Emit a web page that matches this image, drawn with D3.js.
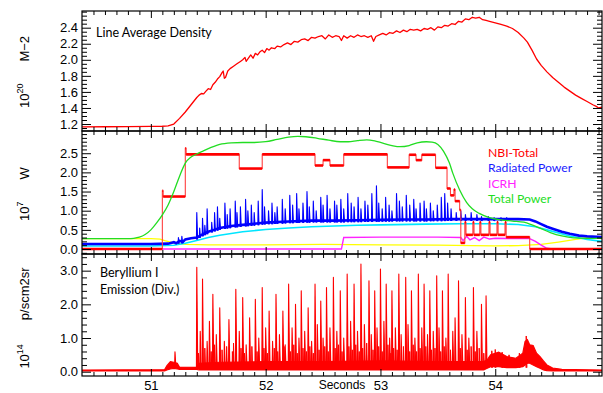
<!DOCTYPE html>
<html>
<head>
<meta charset="utf-8">
<script src="https://cdn.jsdelivr.net/npm/d3@7"></script>
<style>
  html, body { margin: 0; padding: 0; background: #fff; }
  svg { display: block; }
</style>
</head>
<body>
<svg id="chart" width="603" height="393"></svg>
<script>
// ---------------- data ----------------
// Line average density, 10^20 m^-2  [time s, value]
const density = [
  [50.40,1.165],[50.60,1.166],[50.80,1.168],[51.00,1.170],[51.10,1.172],[51.15,1.178],
  [51.20,1.200],[51.25,1.270],[51.30,1.350],[51.35,1.440],[51.40,1.530],[51.42,1.560],
  [51.44,1.580],[51.46,1.575],[51.48,1.610],[51.50,1.640],[51.52,1.630],[51.54,1.690],
  [51.56,1.720],[51.58,1.760],[51.60,1.790],[51.62,1.840],[51.63,1.860],[51.64,1.770],
  [51.65,1.780],[51.67,1.860],[51.69,1.890],[51.72,1.920],[51.75,1.950],[51.78,1.980],
  [51.80,2.000],[51.82,2.030],[51.83,1.980],[51.85,2.020],[51.87,2.060],[51.89,2.020],
  [51.91,2.080],[51.93,2.060],[51.95,2.100],[51.97,2.120],[51.99,2.090],[52.01,2.140],
  [52.03,2.120],[52.05,2.150],[52.08,2.140],[52.10,2.170],[52.13,2.160],[52.16,2.190],
  [52.19,2.210],[52.22,2.190],[52.25,2.230],[52.28,2.220],[52.31,2.250],[52.34,2.260],
  [52.37,2.240],[52.40,2.280],[52.43,2.270],[52.46,2.290],[52.49,2.300],[52.52,2.260],
  [52.55,2.310],[52.58,2.280],[52.61,2.300],[52.64,2.290],[52.66,2.240],[52.68,2.300],
  [52.71,2.270],[52.74,2.300],[52.77,2.280],[52.80,2.310],[52.83,2.290],[52.86,2.300],
  [52.89,2.280],[52.92,2.300],[52.94,2.230],[52.96,2.290],[52.99,2.310],[53.02,2.330],
  [53.05,2.310],[53.08,2.340],[53.11,2.330],[53.14,2.360],[53.17,2.340],[53.20,2.370],
  [53.23,2.350],[53.26,2.380],[53.29,2.370],[53.32,2.380],[53.35,2.360],[53.38,2.390],
  [53.41,2.380],[53.44,2.400],[53.47,2.370],[53.50,2.410],[53.53,2.400],[53.56,2.430],
  [53.59,2.420],[53.62,2.450],[53.65,2.440],[53.68,2.480],[53.71,2.470],[53.74,2.510],
  [53.77,2.500],[53.80,2.530],[53.83,2.520],[53.86,2.530],[53.89,2.500],[53.92,2.490],
  [53.95,2.480],[54.00,2.460],[54.05,2.440],[54.10,2.420],[54.15,2.390],[54.20,2.340],
  [54.25,2.270],[54.28,2.220],[54.32,2.120],[54.36,2.010],[54.40,1.930],[54.45,1.850],
  [54.50,1.780],[54.55,1.720],[54.60,1.660],[54.65,1.610],[54.70,1.560],[54.75,1.520],
  [54.80,1.480],[54.85,1.440],[54.88,1.420],[54.90,1.400],[54.93,1.410]
];

// Neutral beam power (step after each time), 10^7 W
const nbiTotal = [
  [50.40,0.00],[51.10,1.52],[51.107,1.37],[51.30,2.63],[51.307,2.47],[51.77,2.10],
  [51.97,2.47],[52.43,2.18],[52.50,2.32],[52.56,2.18],[52.68,2.47],[53.06,2.13],
  [53.25,2.46],[53.31,2.32],[53.36,2.46],[53.48,2.12],[53.58,1.58],[53.61,1.40],
  [53.64,1.55],[53.65,1.25],[53.69,1.02],[53.70,0.16],[53.735,0.70],[53.745,0.37],
  [53.805,0.70],[53.815,0.37],[53.865,0.70],[53.875,0.37],[53.945,0.70],[53.955,0.37],
  [54.015,0.70],[54.025,0.37],[54.085,0.70],[54.095,0.31],[54.30,0.00],[54.93,0.00]
];

// Total input power, 10^7 W
const totalPower = [
  [50.40,0.27],[50.80,0.27],[50.85,0.28],[50.90,0.31],[50.95,0.38],[51.00,0.50],
  [51.05,0.68],[51.10,0.89],[51.15,1.15],[51.20,1.50],[51.25,1.90],[51.30,2.24],
  [51.35,2.40],[51.40,2.48],[51.45,2.55],[51.50,2.62],[51.55,2.68],[51.60,2.73],
  [51.70,2.77],[51.80,2.78],[51.90,2.78],[52.00,2.80],[52.10,2.86],[52.20,2.92],
  [52.28,2.94],[52.35,2.93],[52.45,2.89],[52.55,2.84],[52.65,2.80],[52.72,2.80],
  [52.80,2.83],[52.88,2.85],[52.95,2.82],[53.00,2.78],[53.10,2.70],[53.17,2.67],
  [53.25,2.70],[53.32,2.77],[53.40,2.80],[53.45,2.79],[53.50,2.73],[53.55,2.55],
  [53.60,2.25],[53.63,1.98],[53.69,1.54],[53.75,1.22],[53.80,1.05],[53.86,0.93],
  [53.95,0.82],[54.05,0.76],[54.15,0.73],[54.25,0.70],[54.32,0.63],[54.40,0.53],
  [54.48,0.43],[54.58,0.34],[54.68,0.29],[54.80,0.28],[54.93,0.28]
];

// Radiated power baseline and its bursts, 10^7 W
const radiated = [
  [50.40,0.13],[51.00,0.13],[51.15,0.14],[51.20,0.18],[51.22,0.15],[51.25,0.21],
  [51.28,0.19],[51.30,0.25],[51.35,0.28],[51.40,0.30],[51.45,0.38],[51.50,0.45],
  [51.55,0.50],[51.60,0.55],[51.70,0.60],[51.80,0.63],[51.90,0.66],[52.00,0.69],
  [52.20,0.72],[52.40,0.74],[52.60,0.74],[52.80,0.75],[53.00,0.76],[53.20,0.77],
  [53.40,0.77],[53.60,0.78],[53.80,0.78],[54.00,0.78],[54.20,0.78],[54.30,0.77],
  [54.35,0.72],[54.40,0.65],[54.45,0.58],[54.50,0.53],[54.58,0.45],[54.65,0.40],
  [54.73,0.35],[54.80,0.33],[54.93,0.31]
];
const radiatedBursts = [
  [51.24,0.30],[51.27,0.33],[51.40,0.95],[51.425,0.55],[51.45,0.80],[51.47,0.62],
  [51.49,1.05],[51.53,0.70],[51.555,0.95],[51.58,1.10],[51.60,0.80],[51.645,1.20],
  [51.665,0.90],[51.69,1.05],[51.735,1.25],[51.75,0.95],[51.78,1.10],[51.825,1.30],
  [51.845,1.00],[51.875,1.15],[51.90,0.95],[51.935,1.25],[51.97,1.55],[51.99,1.10],
  [52.025,1.00],[52.055,1.20],[52.08,0.95],[52.10,1.10],[52.145,1.30],[52.17,1.05],
  [52.21,1.40],[52.235,1.15],[52.27,1.45],[52.29,1.05],[52.325,1.20],[52.36,1.50],
  [52.38,1.10],[52.415,1.25],[52.44,1.00],[52.48,1.35],[52.50,1.15],[52.535,1.40],
  [52.56,1.05],[52.60,1.25],[52.62,1.15],[52.655,1.30],[52.68,1.05],[52.715,1.45],
  [52.745,1.20],[52.77,1.10],[52.805,1.35],[52.83,1.05],[52.865,1.25],[52.89,1.15],
  [52.925,1.45],[52.965,1.65],[52.985,1.20],[53.015,1.05],[53.045,1.35],[53.075,1.15],
  [53.10,1.00],[53.14,1.45],[53.165,1.25],[53.19,1.10],[53.225,1.40],[53.255,1.15],
  [53.29,1.30],[53.31,1.05],[53.345,1.20],[53.38,1.25],[53.40,1.05],[53.435,1.20],
  [53.46,1.00],[53.495,1.15],[53.53,1.35],[53.56,1.45],[53.585,1.20],[53.615,1.05],
  [53.66,0.95],[53.70,1.00],[53.74,0.90],[53.79,0.95],[53.84,0.90],[53.88,0.85],
  [53.94,0.85],[53.99,0.82],[54.05,0.82],[54.10,0.82]
];

// Cyan and yellow power traces, 10^7 W
const cyanTrace = [
  [50.40,0.08],[51.00,0.08],[51.20,0.10],[51.30,0.15],[51.40,0.22],[51.50,0.30],
  [51.60,0.36],[51.80,0.45],[52.00,0.51],[52.20,0.55],[52.40,0.58],[52.60,0.60],
  [52.80,0.62],[53.00,0.63],[53.40,0.65],[53.70,0.66],[54.00,0.66],[54.20,0.64],
  [54.35,0.58],[54.50,0.46],[54.65,0.34],[54.80,0.25],[54.93,0.20]
];
const yellowTrace = [
  [50.40,0.27],[51.00,0.27],[51.08,0.26],[51.12,0.22],[51.20,0.16],[51.30,0.12],
  [51.50,0.11],[52.00,0.11],[52.50,0.12],[53.00,0.11],[53.50,0.10],[53.80,0.09],
  [54.00,0.08],[54.20,0.09],[54.40,0.12],[54.55,0.18],[54.70,0.25],[54.85,0.31],
  [54.93,0.33]
];

// ICRH power, 10^7 W
const icrh = [
  [50.40,0.00],[52.66,0.00],[52.68,0.30],[53.00,0.31],[53.50,0.31],[53.70,0.30],
  [53.72,0.22],[53.75,0.33],[53.78,0.24],[53.82,0.30],[53.86,0.22],[53.90,0.31],
  [53.95,0.26],[54.00,0.28],[54.20,0.27],[54.30,0.27],[54.35,0.20],[54.40,0.10],
  [54.45,0.02],[54.50,0.00],[54.93,0.00]
];

// Be I divertor emission, 10^14 p/s cm2 sr : envelope of the fast signal [t, low, high]
const berylliumBand = [
  [50.40,0.02,0.05],[51.12,0.02,0.06],[51.14,0.05,0.18],[51.17,0.08,0.30],
  [51.20,0.10,0.28],[51.23,0.08,0.25],[51.25,0.07,0.13],[51.40,0.07,0.14],
  [51.42,0.05,0.25],[51.60,0.05,0.28],[52.00,0.05,0.30],[52.50,0.05,0.30],
  [53.00,0.05,0.32],[53.50,0.05,0.30],[53.90,0.05,0.30],[53.93,0.10,0.35],
  [53.96,0.15,0.50],[54.03,0.15,0.58],[54.10,0.12,0.45],[54.18,0.12,0.40],
  [54.24,0.15,0.55],[54.26,0.20,0.90],[54.28,0.25,0.95],[54.30,0.25,0.80],
  [54.33,0.20,0.78],[54.36,0.15,0.55],[54.39,0.10,0.45],[54.42,0.05,0.32],
  [54.45,0.03,0.20],[54.50,0.02,0.11],[54.58,0.02,0.07],[54.93,0.02,0.05]
];
// Be I bursts (ELMs) [t, peak]
const berylliumBursts = [
  [51.21,0.59],
  [51.40,3.10],[51.43,1.20],[51.45,2.75],[51.49,0.90],[51.51,1.50],[51.54,2.30],
  [51.57,1.10],[51.60,1.90],[51.64,0.90],[51.68,1.55],[51.74,2.45],[51.77,1.20],
  [51.80,2.20],[51.83,0.80],[51.86,1.60],[51.91,2.15],[51.94,1.00],[51.97,2.50],
  [52.00,1.30],[52.03,1.80],[52.06,0.90],[52.09,2.30],[52.12,1.10],[52.15,1.80],
  [52.17,0.80],[52.20,2.60],[52.23,1.30],[52.26,2.00],[52.29,1.00],[52.31,2.40],
  [52.34,1.20],[52.37,1.90],[52.40,0.90],[52.43,2.60],[52.45,1.40],[52.48,2.10],
  [52.50,1.00],[52.53,2.50],[52.56,1.30],[52.59,2.80],[52.62,1.20],[52.65,2.40],
  [52.68,1.00],[52.71,2.90],[52.74,1.50],[52.77,2.60],[52.80,1.20],[52.83,3.20],
  [52.86,1.40],[52.90,2.70],[52.92,1.10],[52.95,2.40],[52.97,1.30],[53.00,3.05],
  [53.03,1.50],[53.05,2.60],[53.08,1.00],[53.10,2.40],[53.13,1.30],[53.16,2.90],
  [53.18,1.10],[53.22,2.80],[53.24,1.40],[53.27,2.40],[53.30,1.00],[53.33,2.90],
  [53.36,1.30],[53.38,2.60],[53.41,1.10],[53.43,2.40],[53.46,1.20],[53.49,2.85],
  [53.51,1.30],[53.54,2.40],[53.57,1.00],[53.59,2.90],[53.63,1.20],[53.65,1.60],
  [53.68,2.70],[53.71,1.10],[53.74,2.20],[53.77,1.00],[53.81,2.50],[53.84,1.20],
  [53.88,2.00],[53.92,2.25]
];
// smaller Be I bursts between the large ones [t, peak]
const berylliumMinor = [
  [51.415,0.55],[51.47,0.70],[51.525,0.60],[51.555,0.80],[51.62,0.65],[51.66,0.75],
  [51.71,0.60],[51.72,0.85],[51.785,0.70],[51.815,0.55],[51.88,0.75],[51.925,0.60],
  [51.985,0.70],[52.015,0.55],[52.075,0.70],[52.105,0.60],[52.16,0.75],[52.215,0.60],
  [52.245,0.80],[52.275,0.55],[52.325,0.70],[52.355,0.60],[52.385,0.75],[52.415,0.55],
  [52.465,0.65],[52.515,0.75],[52.545,0.60],[52.605,0.70],[52.635,0.80],[52.665,0.60],
  [52.725,0.75],[52.755,0.65],[52.785,0.80],[52.815,0.60],[52.845,0.70],[52.88,0.85],
  [52.935,0.65],[52.985,0.75],[53.015,0.60],[53.065,0.80],[53.09,0.55],[53.115,0.70],
  [53.145,0.65],[53.2,0.75],[53.255,0.60],[53.285,0.80],[53.315,0.60],[53.345,0.70],
  [53.395,0.75],[53.445,0.65],[53.475,0.70],[53.525,0.60],[53.555,0.75],[53.61,0.65],
  [53.695,0.70],[53.755,0.65],[53.79,0.75],[53.825,0.60],[53.86,0.70],[53.90,0.55],
  [53.97,0.62],[54.00,0.66],[54.06,0.58],[54.12,0.50],[54.21,0.55],[54.27,1.06]
];

// axis ticks and labels
const timeTicks = [51, 52, 53, 54];
const densityTicks = [1.2, 1.4, 1.6, 1.8, 2.0, 2.2, 2.4];
const powerTicks = [0.0, 0.5, 1.0, 1.5, 2.0, 2.5];
const berylliumTicks = [0.0, 1.0, 2.0, 3.0];
const legendNames = ["NBI-Total", "Radiated Power", "ICRH", "Total Power"];
const legendColors = ["#ff0000", "#1a1aff", "#ff22ff", "#22dd22"];

// ---------------- layout ----------------
const svg = d3.select("#chart");
const left = 82, right = 602;
const tickFont = "Liberation Sans, Arial, sans-serif";
const noteFont = "Lato, 'Open Sans', sans-serif";

const x = d3.scaleLinear().domain([50.4, 54.93]).range([left, right]);

const yDensity = d3.scaleLinear().domain([1.113, 2.608]).range([131, 11]);
const yPower = d3.scaleLinear().domain([-0.13, 3.08]).range([254, 131]);
const yBe = d3.scaleLinear().domain([-0.128, 3.495]).range([376, 254]);

const defs = svg.append("defs");
function clipFor(id, y) {
  const [b, t] = y.range();
  defs.append("clipPath").attr("id", id)
    .append("rect").attr("x", left).attr("y", t).attr("width", right - left).attr("height", b - t);
  return svg.append("g").attr("clip-path", `url(#${id})`);
}

const line = (y) => d3.line().x(d => x(d[0])).y(d => y(d[1]));

// ---------- density panel ----------
const gD = clipFor("clipD", yDensity);
gD.append("path").datum(density)
  .attr("d", line(yDensity)).attr("fill", "none")
  .attr("stroke", "#ff0000").attr("stroke-width", 1.3).attr("stroke-linejoin", "round");

// ---------- power panel ----------
const gP = clipFor("clipP", yPower);
gP.append("path").datum(yellowTrace).attr("d", line(yPower))
  .attr("fill", "none").attr("stroke", "#ffff00").attr("stroke-width", 1.3);
gP.append("path").datum(icrh).attr("d", line(yPower))
  .attr("fill", "none").attr("stroke", "#ff22ff").attr("stroke-width", 1.4);
gP.append("path").datum(cyanTrace).attr("d", line(yPower))
  .attr("fill", "none").attr("stroke", "#00e5ff").attr("stroke-width", 1.6);

// radiated power: baseline + bursts rising from it
const radBase = (t) => {
  const i = d3.bisector(d => d[0]).left(radiated, t);
  if (i <= 0) return radiated[0][1];
  if (i >= radiated.length) return radiated[radiated.length - 1][1];
  const a = radiated[i - 1], b = radiated[i];
  return a[1] + (b[1] - a[1]) * (t - a[0]) / (b[0] - a[0]);
};
gP.append("path").datum(radiated).attr("d", line(yPower))
  .attr("fill", "none").attr("stroke", "#0000ff").attr("stroke-width", 2.6);
gP.selectAll("path.rad").data(radiatedBursts).join("path").attr("class", "rad")
  .attr("d", d => {
    const b = radBase(d[0]) - 0.05;
    return d3.line()([[x(d[0] - 0.003), yPower(b)], [x(d[0]), yPower(d[1])], [x(d[0] + 0.007), yPower(b)]]);
  })
  .attr("fill", "#0000ff").attr("stroke", "#0000ff").attr("stroke-width", 1.1).attr("stroke-linejoin", "round");

// NBI: thin risers, heavy plateaus
gP.append("path").datum(nbiTotal)
  .attr("d", line(yPower).curve(d3.curveStepAfter))
  .attr("fill", "none").attr("stroke", "#ff4040").attr("stroke-width", 1.1);
gP.selectAll("line.nbi").data(nbiTotal.slice(0, -1).map((d, i) => [d[0], nbiTotal[i + 1][0], d[1]]))
  .join("line").attr("class", "nbi")
  .attr("x1", d => x(d[0])).attr("x2", d => x(d[1]))
  .attr("y1", d => yPower(d[2])).attr("y2", d => yPower(d[2]))
  .attr("stroke", "#ff0000").attr("stroke-width", 2.6);

gP.append("path").datum(totalPower).attr("d", line(yPower).curve(d3.curveMonotoneX))
  .attr("fill", "none").attr("stroke", "#22dd22").attr("stroke-width", 1.3);

// ---------- beryllium panel ----------
const gB = clipFor("clipB", yBe);
gB.append("path").datum(berylliumBand)
  .attr("d", d3.area().x(d => x(d[0])).y0(d => yBe(d[1])).y1(d => yBe(d[2])))
  .attr("fill", "#ff0000").attr("stroke", "#ff0000").attr("stroke-width", 1.2);
const burst = (d, w) => d3.line()([[x(d[0] - w * 0.4), yBe(0.12)], [x(d[0]), yBe(d[1])], [x(d[0] + w), yBe(0.12)]]);
gB.selectAll("path.bemin").data(berylliumMinor).join("path").attr("class", "bemin")
  .attr("d", d => burst(d, 0.006))
  .attr("fill", "#ff0000").attr("stroke", "#ff0000").attr("stroke-width", 1).attr("stroke-linejoin", "round");
gB.selectAll("path.be").data(berylliumBursts).join("path").attr("class", "be")
  .attr("d", d => burst(d, 0.008))
  .attr("fill", "#ff0000").attr("stroke", "#ff0000").attr("stroke-width", 1.1).attr("stroke-linejoin", "round");

// ---------------- axes ----------------
function styleAxis(g) {
  g.select(".domain").remove();
  g.attr("font-family", tickFont).attr("font-size", 13).attr("color", "#000");
  g.selectAll(".tick line").attr("stroke-width", 1);
}

function panelAxes(y, major, minorStep, fmt, labelX) {
  const [b, t] = y.range();
  const d = y.domain();
  const minor = d3.range(Math.ceil(d[0] / minorStep) * minorStep, d[1], minorStep)
    .filter(v => !major.some(m => Math.abs(m - v) < 1e-6));
  const xMinor = d3.range(50.5, 54.95, 0.1).filter(v => Math.abs(v - Math.round(v)) > 1e-6);

  svg.append("g").attr("transform", `translate(${left},0)`)
    .call(d3.axisLeft(y).tickValues(major).tickFormat(fmt).tickSize(-9).tickSizeOuter(0).tickPadding(4)).call(styleAxis);
  svg.append("g").attr("transform", `translate(${left},0)`)
    .call(d3.axisLeft(y).tickValues(minor).tickFormat("").tickSize(-5).tickSizeOuter(0)).call(styleAxis);
  svg.append("g").attr("transform", `translate(${right},0)`)
    .call(d3.axisRight(y).tickValues(major).tickFormat("").tickSize(-9).tickSizeOuter(0)).call(styleAxis);
  svg.append("g").attr("transform", `translate(${right},0)`)
    .call(d3.axisRight(y).tickValues(minor).tickFormat("").tickSize(-5).tickSizeOuter(0)).call(styleAxis);

  svg.append("g").attr("transform", `translate(0,${t})`)
    .call(d3.axisTop(x).tickValues(timeTicks).tickFormat("").tickSize(-7).tickSizeOuter(0)).call(styleAxis);
  svg.append("g").attr("transform", `translate(0,${t})`)
    .call(d3.axisTop(x).tickValues(xMinor).tickFormat("").tickSize(-4).tickSizeOuter(0)).call(styleAxis);
  svg.append("g").attr("transform", `translate(0,${b})`)
    .call(d3.axisBottom(x).tickValues(timeTicks).tickFormat(labelX ? d3.format("d") : "").tickSize(-7).tickSizeOuter(0).tickPadding(5)).call(styleAxis);
  svg.append("g").attr("transform", `translate(0,${b})`)
    .call(d3.axisBottom(x).tickValues(xMinor).tickFormat("").tickSize(-4).tickSizeOuter(0)).call(styleAxis);

  svg.append("rect").attr("x", left).attr("y", t).attr("width", right - left).attr("height", b - t)
    .attr("fill", "none").attr("stroke", "#000").attr("stroke-width", 1.2);
}

panelAxes(yDensity, densityTicks, 0.05, d3.format(".1f"), false);
panelAxes(yPower, powerTicks, 0.1, d3.format(".1f"), false);
panelAxes(yBe, berylliumTicks, 0.2, d3.format(".1f"), true);

// ---------------- titles ----------------
function yTitle(cx, cy, exp, unit, gap) {
  const t = svg.append("text")
    .attr("transform", `translate(${cx},${cy}) rotate(-90)`)
    .attr("text-anchor", "middle")
    .attr("font-family", tickFont).attr("font-size", 13).attr("fill", "#000");
  t.append("tspan").text("10");
  t.append("tspan").attr("dy", -6).attr("font-size", 9).text(exp);
  t.append("tspan").attr("dy", 6).attr("dx", gap).text(unit);
}
yTitle(29, 72, "20", "M\u22122", 22);
yTitle(29, 194, "7", "W", 22);
yTitle(29, 318, "14", "p/scm2sr", 24);

svg.append("text").attr("x", 342).attr("y", 389).attr("text-anchor", "middle")
  .attr("font-family", tickFont).attr("font-size", 12).attr("fill", "#000").text("Seconds");

const note = (tx, ty, s, color) => svg.append("text").attr("x", tx).attr("y", ty)
  .attr("font-family", noteFont).attr("font-size", 12.5).attr("fill", color || "#000").text(s);
note(96, 37, "Line Average Density");
note(100, 277, "Beryllium I");
note(100, 294, "Emission (Div.)");

svg.selectAll("text.legend").data(legendNames).join("text").attr("class", "legend")
  .attr("x", 488).attr("y", (d, i) => 157 + i * 15.3)
  .attr("font-family", noteFont).attr("font-size", 12.2)
  .attr("fill", (d, i) => legendColors[i]).text(d => d);
</script>
</body>
</html>
